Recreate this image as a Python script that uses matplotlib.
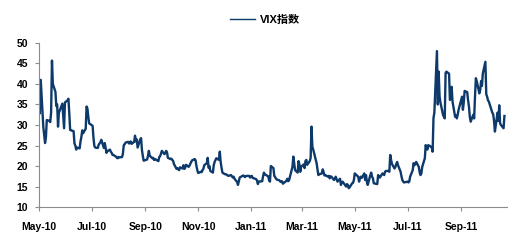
import pandas as pd
import matplotlib
matplotlib.use("Agg")
import matplotlib.pyplot as plt

plt.rcParams['font.family'] = ['Liberation Sans', 'Noto Sans CJK SC']
plt.rcParams['font.weight'] = 'bold'

# VIX 收盘值
dates_2010 = [
    "05-06", "05-07", "05-10", "05-11", "05-12", "05-13", "05-14", "05-17", "05-18", "05-19",
    "05-20", "05-21", "05-24", "05-25", "05-26", "05-27", "05-28", "06-01", "06-02", "06-03",
    "06-04", "06-07", "06-08", "06-09", "06-10", "06-11", "06-14", "06-15", "06-16", "06-17",
    "06-18", "06-21", "06-22", "06-23", "06-24", "06-25", "06-28", "06-29", "06-30", "07-01",
    "07-02", "07-06", "07-07", "07-08", "07-09", "07-12", "07-13", "07-14", "07-15", "07-16",
    "07-19", "07-20", "07-21", "07-22", "07-23", "07-26", "07-27", "07-28", "07-29", "07-30",
    "08-02", "08-03", "08-04", "08-05", "08-06", "08-09", "08-10", "08-11", "08-12", "08-13",
    "08-16", "08-17", "08-18", "08-19", "08-20", "08-23", "08-24", "08-25", "08-26", "08-27",
    "08-30", "08-31", "09-01", "09-02", "09-03", "09-07", "09-08", "09-09", "09-10", "09-13",
    "09-14", "09-15", "09-16", "09-17", "09-20", "09-21", "09-22", "09-23", "09-24", "09-27",
    "09-28", "09-29", "09-30", "10-01", "10-04", "10-05", "10-06", "10-07", "10-08", "10-11",
    "10-12", "10-13", "10-14", "10-15", "10-18", "10-19", "10-20", "10-21", "10-22", "10-25",
    "10-26", "10-27", "10-28", "10-29", "11-01", "11-02", "11-03", "11-04", "11-05", "11-08",
    "11-09", "11-10", "11-11", "11-12", "11-15", "11-16", "11-17", "11-18", "11-19", "11-22",
    "11-23", "11-24", "11-26", "11-29", "11-30", "12-01", "12-02", "12-03", "12-06", "12-07",
    "12-08", "12-09", "12-10", "12-13", "12-14", "12-15", "12-16", "12-17", "12-20", "12-21",
    "12-22", "12-23", "12-27", "12-28", "12-29", "12-30", "12-31",
]
vix_2010 = [
    32.9, 41.0, 29.5, 27.5, 25.6, 27.0, 31.2, 31.0, 30.7, 33.0,
    45.7, 40.0, 38.1, 34.6, 35.0, 29.6, 33.0, 35.2, 32.0, 29.2,
    35.5, 36.0, 36.4, 32.9, 28.8, 28.7, 28.5, 25.5, 25.0, 24.0,
    24.5, 24.3, 26.0, 27.1, 28.7, 28.0, 29.1, 34.5, 34.0, 32.0,
    30.4, 29.8, 26.8, 24.9, 24.5, 24.4, 25.2, 25.5, 25.8, 26.4,
    24.4, 25.6, 24.5, 23.2, 23.6, 24.0, 23.5, 23.2, 22.7, 22.7,
    22.3, 22.0, 21.9, 22.2, 22.1, 22.2, 23.0, 25.1, 25.3, 25.7,
    25.9, 25.5, 25.6, 26.0, 25.4, 25.9, 27.4, 26.0, 26.5, 24.5,
    26.5, 26.8, 23.9, 22.5, 21.3, 21.6, 22.5, 23.7, 22.5, 21.9,
    22.0, 21.5, 21.7, 21.6, 21.2, 22.2, 22.4, 23.0, 23.7, 22.9,
    23.2, 23.7, 23.3, 22.0, 21.7, 21.8, 21.5, 21.3, 20.5, 19.3,
    19.5, 19.2, 19.0, 19.7, 19.4, 20.2, 19.3, 19.6, 20.3, 19.8,
    20.1, 20.6, 21.0, 21.4, 21.7, 21.4, 20.0, 19.0, 18.3, 18.6,
    18.5, 19.0, 19.3, 20.2, 20.7, 22.0, 19.6, 20.0, 18.8, 18.4,
    20.2, 21.0, 21.9, 21.5, 23.5, 21.0, 19.6, 18.4, 18.0, 18.0,
    17.9, 17.7, 17.6, 17.8, 17.5, 17.2, 17.4, 16.9, 16.1, 15.4,
    16.3, 17.2, 17.7, 17.6, 17.3, 17.5, 17.6,
]
dates_2011 = [
    "01-03", "01-04", "01-05", "01-06", "01-07", "01-10", "01-11", "01-12", "01-13", "01-14",
    "01-18", "01-19", "01-20", "01-21", "01-24", "01-25", "01-26", "01-27", "01-28", "01-31",
    "02-01", "02-02", "02-03", "02-04", "02-07", "02-08", "02-09", "02-10", "02-11", "02-14",
    "02-15", "02-16", "02-17", "02-18", "02-22", "02-23", "02-24", "02-25", "02-28", "03-01",
    "03-02", "03-03", "03-04", "03-07", "03-08", "03-09", "03-10", "03-11", "03-14", "03-15",
    "03-16", "03-17", "03-18", "03-21", "03-22", "03-23", "03-24", "03-25", "03-28", "03-29",
    "03-30", "03-31", "04-01", "04-04", "04-05", "04-06", "04-07", "04-08", "04-11", "04-12",
    "04-13", "04-14", "04-15", "04-18", "04-19", "04-20", "04-21", "04-25", "04-26", "04-27",
    "04-28", "04-29", "05-02", "05-03", "05-04", "05-05", "05-06", "05-09", "05-10", "05-11",
    "05-12", "05-13", "05-16", "05-17", "05-18", "05-19", "05-20", "05-23", "05-24", "05-25",
    "05-26", "05-27", "05-31", "06-01", "06-02", "06-03", "06-06", "06-07", "06-08", "06-09",
    "06-10", "06-13", "06-14", "06-15", "06-16", "06-17", "06-20", "06-21", "06-22", "06-23",
    "06-24", "06-27", "06-28", "06-29", "06-30", "07-01", "07-05", "07-06", "07-07", "07-08",
    "07-11", "07-12", "07-13", "07-14", "07-15", "07-18", "07-19", "07-20", "07-21", "07-22",
    "07-25", "07-26", "07-27", "07-28", "07-29", "08-01", "08-02", "08-03", "08-04", "08-05",
    "08-08", "08-09", "08-10", "08-11", "08-12", "08-15", "08-16", "08-17", "08-18", "08-19",
    "08-22", "08-23", "08-24", "08-25", "08-26", "08-29", "08-30", "08-31", "09-01", "09-02",
    "09-06", "09-07", "09-08", "09-09", "09-12", "09-13", "09-14", "09-15", "09-16", "09-19",
    "09-20", "09-21", "09-22", "09-23", "09-26", "09-27", "09-28", "09-29", "09-30", "10-03",
    "10-04", "10-05", "10-06", "10-07", "10-10", "10-11", "10-12", "10-13", "10-14", "10-17",
    "10-18", "10-19", "10-20", "10-21", "10-24", "10-25",
]
vix_2011 = [
    17.6, 17.2, 17.4, 17.6, 17.1, 16.9, 16.8, 16.5, 15.6, 16.2,
    16.3, 17.5, 18.4, 18.0, 17.6, 17.5, 16.5, 16.2, 20.0, 19.5,
    17.6, 17.3, 16.9, 16.7, 16.5, 16.2, 16.1, 16.3, 15.7, 16.2,
    16.4, 16.9, 16.3, 16.5, 19.8, 22.3, 20.6, 19.0, 18.4, 21.2,
    20.4, 18.6, 19.8, 20.4, 19.5, 21.2, 21.5, 20.3, 21.2, 22.0,
    29.6, 24.7, 24.0, 21.4, 20.6, 19.0, 17.8, 18.0, 18.2, 19.2,
    18.5, 17.7, 17.8, 17.4, 17.6, 17.0, 17.5, 17.4, 16.6, 17.0,
    17.4, 16.8, 16.2, 16.9, 15.4, 16.0, 16.2, 15.0, 15.6, 15.4,
    14.6, 14.8, 15.8, 15.9, 16.6, 18.2, 18.0, 17.4, 16.2, 17.0,
    17.4, 17.1, 18.2, 16.6, 17.8, 16.2, 15.4, 17.8, 18.4, 17.4,
    17.0, 15.8, 15.6, 17.8, 17.4, 17.2, 18.2, 18.0, 17.8, 18.6,
    18.8, 18.8, 18.6, 22.7, 21.5, 20.5, 19.4, 19.8, 20.5, 21.0,
    20.2, 18.6, 17.5, 16.6, 16.2, 16.0, 16.2, 16.0, 16.2, 17.4,
    19.0, 20.7, 20.2, 20.5, 21.0, 19.8, 18.5, 17.8, 18.2, 19.8,
    21.9, 25.1, 24.3, 24.0, 25.1, 24.7, 24.6, 23.5, 31.7, 33.0,
    48.0, 35.0, 43.0, 37.0, 35.5, 32.5, 32.0, 31.6, 42.7, 43.0,
    42.5, 36.1, 36.5, 39.3, 35.7, 32.0, 32.3, 31.6, 32.5, 33.7,
    36.9, 33.7, 35.5, 38.3, 38.0, 36.0, 34.5, 32.0, 30.8, 32.5,
    31.6, 37.0, 41.4, 40.7, 37.7, 38.5, 40.7, 39.5, 42.5, 45.4,
    37.5, 36.9, 36.0, 35.7, 33.7, 33.0, 32.6, 31.0, 28.4, 33.0,
    31.0, 34.8, 30.4, 30.0, 29.2, 32.2,
]

tick_dates = ["2010-05-05", "2010-07-05", "2010-09-05", "2010-11-05", "2011-01-05",
              "2011-03-05", "2011-05-05", "2011-07-05", "2011-09-05"]
tick_labels = ["May-10", "Jul-10", "Sep-10", "Nov-10", "Jan-11",
               "Mar-11", "May-11", "Jul-11", "Sep-11"]

x = pd.to_datetime(["2010-" + d for d in dates_2010] + ["2011-" + d for d in dates_2011])
y = vix_2010 + vix_2011

fig = plt.figure(figsize=(5.22, 2.48), dpi=100)
ax = fig.add_axes([0.0747, 0.165, 0.8966, 0.662])

line_color = '#0d3a6a'
ax.plot(x, y, color=line_color, lw=1.7)

ax.set_ylim(10, 50)
ax.set_yticks(range(10, 51, 5))
ax.set_xlim(pd.Timestamp("2010-05-05"), pd.Timestamp("2011-10-28"))
ax.set_xticks(pd.to_datetime(tick_dates), labels=tick_labels)

for s in ['top', 'right']:
    ax.spines[s].set_visible(False)
for s in ['left', 'bottom']:
    ax.spines[s].set_color('#8c8c8c')
    ax.spines[s].set_linewidth(0.8)

ax.tick_params(axis='both', colors='#8c8c8c', labelcolor='black', labelsize=7.5,
               length=3, width=0.8, direction='out')
ax.tick_params(axis='x', pad=8)
ax.tick_params(axis='y', pad=5)

handle = plt.Line2D([], [], color=line_color, lw=1.0)
fig.legend([handle], ['VIX指数'], loc='center', bbox_to_anchor=(0.507, 0.919),
           frameon=False, fontsize=8, handlelength=2.3, handletextpad=0.4)

fig.savefig('out.png', dpi=100)
